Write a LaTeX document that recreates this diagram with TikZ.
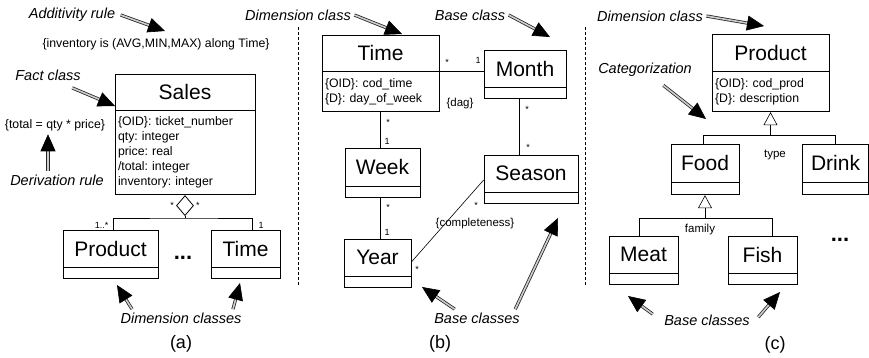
\documentclass[tikz,border=0pt]{standalone}
\usepackage{fontspec}
\setmainfont{Liberation Sans}
\frenchspacing
\usetikzlibrary{arrows.meta,positioning,shapes.geometric}

\begin{document}
\begin{tikzpicture}[x=1pt,y=-1pt,
  cls/.style={draw, line width=0.8pt, fill=white, inner sep=0pt, minimum height=37pt, font=\fontsize{21}{24}\selectfont},
  attrs/.style={draw, line width=0.8pt, fill=white, inner xsep=3pt, inner ysep=0pt, align=left, font=\fontsize{12.3}{15}\selectfont},
  note/.style={font=\fontsize{12.3}{15}\selectfont},
  small/.style={font=\fontsize{11.5}{13}\selectfont},
  hint/.style={font=\fontsize{14.5}{17}\selectfont\itshape},
  mult/.style={font=\fontsize{9}{10}\selectfont, inner sep=1pt},
  dots/.style={font=\fontsize{22}{24}\selectfont\bfseries},
  caption/.style={font=\fontsize{18}{20}\selectfont},
  pointer/.style={draw=gray!40, line width=0.6pt, -{Triangle[length=17pt,width=15pt,black]},
    preaction={draw=black!85, -, double=gray!40, double distance=1.6pt, line width=0.8pt, shorten >=15pt}},
  link/.style={line width=0.6pt},
  isa/.style={line width=0.6pt, -{Triangle[open,length=13pt,width=14pt]}}
]

\useasboundingbox (0,0) rectangle (869,357);

\draw[densely dashed, line width=0.8pt] (298,27) -- (298,285);
\draw[densely dashed, line width=0.8pt] (585,27) -- (585,285);

% (a)
\node[hint] (addlbl) at (72,15) {Additivity rule};
\node[note] (addrule) at (156,44) {\{inventory is (AVG,MIN,MAX) along Time\}};
\node[hint] (factlbl) at (48,75) {Fact class};
\node[cls, minimum width=140pt, minimum height=36pt] (sales) at (185,92) {Sales};
\node[attrs, text width=134pt, minimum height=84pt, below=0pt of sales] (sales-a)
  {\{OID\}: ticket\_number\\qty: integer\\price: real\\/total: integer\\inventory: integer};
\node[note] (derrule) at (55,125) {\{total = qty * price\}};
\node[hint] (derlbl) at (57,180) {Derivation rule};
\node[draw, line width=0.8pt, fill=white, diamond, inner sep=0pt, minimum width=17pt, minimum height=20pt, below=0pt of sales-a] (agg) {};
\node[mult, left=1pt of agg] (agg-l) {*};
\node[mult, right=1pt of agg] (agg-r) {*};
\coordinate[below=2pt of agg.south] (ajoin);

\node[cls, minimum width=95pt] (aprod) at (110.5,248.5) {Product};
\node[attrs, minimum width=95pt, minimum height=11pt, below=0pt of aprod] (aprod-a) {};
\node[cls, minimum width=69pt] (atime) at (245.5,248.5) {Time};
\node[attrs, minimum width=69pt, minimum height=11pt, below=0pt of atime] (atime-a) {};
\node[dots] (adots) at (183,258) {...};
\node[mult, anchor=south east] (amult-p) at ([xshift=-1pt]aprod.north) {1..*};
\node[mult, anchor=south west] (amult-t) at ([xshift=12pt]atime.north) {1};
\node[hint] (adimlbl) at (181,318) {Dimension classes};
\node[caption] (acap) at (181,344) {(a)};

\draw[link] (agg.south) -- (ajoin);
\draw[link] ([xshift=2.5pt]aprod.north) |- (ajoin) -| ([xshift=6.5pt]atime.north);

\coordinate (addtip) at (165,31);
\coordinate (facttip) at (115,106);
\coordinate (adimtip1) at (117,285);
\coordinate (adimtip2) at (240,283);
\draw[pointer] ([xshift=2pt]addlbl.east) -- (addtip);
\draw[pointer] ([xshift=-12pt,yshift=-4pt]factlbl.south east) -- (facttip);
\draw[pointer] ([xshift=-9pt]derlbl.north) -- ([xshift=-9pt]derlbl.north |- derrule.south);
\draw[pointer] ([xshift=15pt]adimlbl.north west) -- (adimtip1);
\draw[pointer] ([xshift=-12pt]adimlbl.north east) -- (adimtip2);

% (b)
\node[hint] (bdimlbl) at (298,15) {Dimension class};
\node[hint] (bbaselbl) at (470,15) {Base class};
\node[cls, minimum width=117pt, minimum height=36pt] (btime) at (380.5,53) {Time};
\node[attrs, text width=111pt, minimum height=40pt, below=0pt of btime] (btime-a)
  {\{OID\}: cod\_time\\\{D\}: day\_of\_week};
\node[cls, minimum width=82pt] (bmonth) at (525,68.5) {Month};
\node[attrs, minimum width=82pt, minimum height=11pt, below=0pt of bmonth] (bmonth-a) {};
\node[cls, minimum width=75pt, minimum height=38pt] (bweek) at (382.5,167) {Week};
\node[attrs, minimum width=75pt, minimum height=11pt, below=0pt of bweek] (bweek-a) {};
\node[cls, minimum width=94pt] (bseason) at (531,173.5) {Season};
\node[attrs, minimum width=94pt, minimum height=11pt, below=0pt of bseason] (bseason-a) {};
\node[cls, minimum width=67pt] (byear) at (377.5,257.5) {Year};
\node[attrs, minimum width=67pt, minimum height=11pt, below=0pt of byear] (byear-a) {};

\draw[link] (btime.south east) -- (btime.south east -| bmonth.west);
\draw[link] ([xshift=-0.5pt]btime-a.south) -- ([xshift=-0.5pt]btime-a.south |- bweek.north);
\draw[link] ([xshift=-2.5pt]bweek-a.south) -- ([xshift=-2.5pt]bweek-a.south |- byear.north);
\draw[link] ([xshift=-6pt]bmonth-a.south) -- ([xshift=-6pt]bmonth-a.south |- bseason.north);
\draw[link] ([yshift=-4.5pt]byear.east) -- ([yshift=-6.5pt]bseason.west);

\node[mult] (bm1) at (447,62) {*};
\node[mult] (bm2) at (478,60) {1};
\node[small] (bdag) at (460,104) {\{dag\}};
\node[mult] (bm3) at (388,122) {*};
\node[mult] (bm4) at (387,141) {1};
\node[mult] (bm5) at (388,207) {*};
\node[mult] (bm6) at (387,232) {1};
\node[mult] (bm7) at (527,109) {*};
\node[mult] (bm8) at (528,147) {*};
\node[mult] (bm9) at (476,205) {*};
\node[mult] (bm10) at (417,269) {*};
\node[small] (bcompl) at (475,224) {\{completeness\}};

\node[hint] (bbaselbl2) at (477,318) {Base classes};
\node[caption] (bcap) at (440,344) {(b)};

\coordinate (bdimtip) at (402,34);
\coordinate (bbasetip) at (550,37);
\coordinate (bbtip1) at (422,287);
\coordinate (bbtip2) at (558,218);
\draw[pointer] (bdimlbl.east) -- (bdimtip);
\draw[pointer] (bbaselbl.east) -- (bbasetip);
\draw[pointer] ([xshift=24pt]bbaselbl2.north west) -- (bbtip1);
\draw[pointer] ([xshift=-8pt]bbaselbl2.north east) -- (bbtip2);

% (c)
\node[hint] (cdimlbl) at (650,16) {Dimension class};
\node[cls, minimum width=117pt] (cprod) at (770.5,52.5) {Product};
\node[attrs, text width=111pt, minimum height=40pt, below=0pt of cprod] (cprod-a)
  {\{OID\}: cod\_prod\\\{D\}: description};
\node[hint] (catlbl) at (645,70) {Categorization};
\node[cls, minimum width=68pt, minimum height=38pt] (cfood) at (705,163) {Food};
\node[attrs, minimum width=68pt, minimum height=12pt, below=0pt of cfood] (cfood-a) {};
\node[cls, minimum width=66pt, minimum height=38pt] (cdrink) at (835.5,163) {Drink};
\node[attrs, minimum width=66pt, minimum height=12pt, below=0pt of cdrink] (cdrink-a) {};
\node[small] (ctype) at (775,155) {type};
\node[cls, minimum width=69pt] (cmeat) at (643.5,254.5) {Meat};
\node[attrs, minimum width=69pt, minimum height=11pt, below=0pt of cmeat] (cmeat-a) {};
\node[cls, minimum width=69pt] (cfish) at (762.5,254.5) {Fish};
\node[attrs, minimum width=69pt, minimum height=11pt, below=0pt of cfish] (cfish-a) {};
\node[small] (cfam) at (700,230) {family};
\node[dots] (cdots) at (840,240) {...};
\node[hint] (cbaselbl) at (707,320) {Base classes};
\node[caption] (ccap) at (775,345) {(c)};

\draw[isa] ([yshift=-23pt]cprod-a.south) -- (cprod-a.south);
\draw[link] ([xshift=-2pt]cfood.north) |- ([yshift=-23pt]cprod-a.south) -| (cdrink.north);
\draw[isa] ([yshift=-23pt]cfood-a.south) -- (cfood-a.south);
\draw[link] ([xshift=-4.5pt]cmeat.north) |- ([yshift=-23pt]cfood-a.south) -| ([xshift=9.5pt]cfish.north);

\coordinate (cdimtip) at (764,26);
\coordinate (cattip) at (706,119);
\coordinate (cbtip1) at (628,296);
\coordinate (cbtip2) at (780,292);
\draw[pointer] (cdimlbl.east) -- (cdimtip);
\draw[pointer] ([xshift=-32pt,yshift=-5pt]catlbl.south east) -- (cattip);
\draw[pointer] ([xshift=-8pt,yshift=-3pt]cbaselbl.north west) -- (cbtip1);
\draw[pointer] ([xshift=5pt,yshift=-6pt]cbaselbl.north east) -- (cbtip2);

\end{tikzpicture}
\end{document}
